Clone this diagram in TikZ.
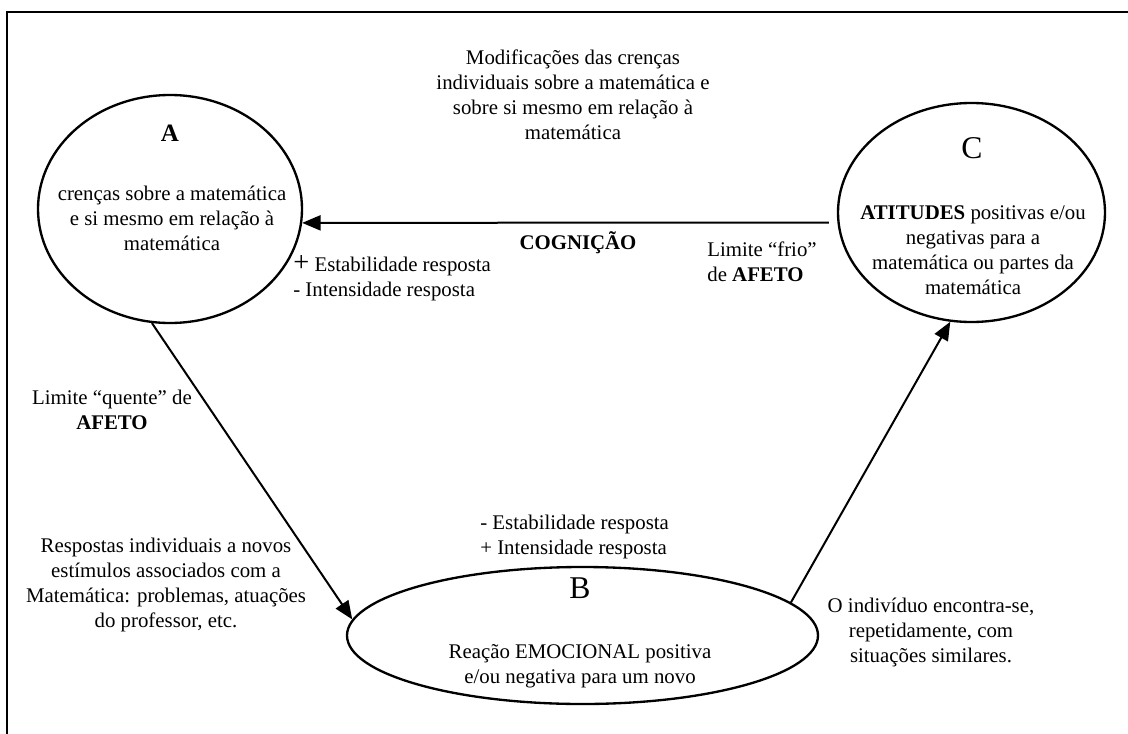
\documentclass[tikz,border=0pt]{standalone}
\usepackage{fontspec}
\setmainfont{Liberation Serif}
\usetikzlibrary{shapes.geometric,arrows.meta}
\begin{document}
\begin{tikzpicture}[x=0.6pt,y=-0.6pt,
  every node/.style={font=\fontsize{12.5}{15}\selectfont, inner sep=0pt},
  bubble/.style={draw, ellipse, line width=1.4pt},
  arr/.style={-{Triangle[length=11pt,width=9pt]}, line width=1.2pt},
  frame/.style={line width=1.4pt},
  txt/.style={align=center},
  ltxt/.style={align=left, anchor=west},
  bigletter/.style={font=\fontsize{19}{21}\selectfont},
]
\useasboundingbox (0,0) rectangle (1128,734);

% open frame: top and left sides
\draw[frame] (1128,12) -- (7,12) -- (7,734);

% the three states
\node[bubble, minimum width=158.4pt, minimum height=136.8pt] (A) at (170,209) {};
\node[bubble, minimum width=160.2pt, minimum height=131.4pt] (C) at (971.5,212.5) {};
\node[bubble, minimum width=282.6pt, minimum height=82.2pt] (B) at (582.5,635.5) {};

% contents of A
\node[font=\fontsize{15}{17}\selectfont\bfseries] (Aletter) at (170,133) {A};
\node[txt] (Atext) at (172,218) {crenças sobre a matemática\\e si mesmo em relação à\\matemática};

% contents of C
\node[bigletter] (Cletter) at (972,148) {C};
\node[txt] (Ctext) at (973,250) {\textbf{ATITUDES} positivas e/ou\\negativas para a\\matemática ou partes da\\matemática};

% contents of B
\node[bigletter] (Bletter) at (580,588) {B};
\node[txt] (Btext) at (580,666) {Reação EMOCIONAL positiva\\e/ou negativa para um novo};

% transitions
\draw[arr] ([xshift=-4.8pt,yshift=-6pt]C.west) -- (A.-6);
\draw[arr] (A.261.5) -- (B.176.8);
\draw[arr] (B.9.4) -- (C.259);

% free labels
\node[txt] (mod) at (573,95) {Modificações das crenças\\individuais sobre a matemática e\\sobre si mesmo em relação à\\matemática};
\node[font=\fontsize{12.5}{15}\selectfont\bfseries] (cog) at (578,243) {COGNIÇÃO};
\node[ltxt] (frio) at (707,262) {Limite “frio”\\de \textbf{AFETO}};
\node[ltxt] (estA) at (293,278) {{\fontsize{17}{15}\selectfont +} Estabilidade resposta\\- Intensidade resposta};
\node[txt] (quente) at (112,410) {Limite “quente” de\\\textbf{AFETO}};
\node[txt] (resp) at (166,585) {Respostas individuais a novos\\estímulos associados com a\\Matemática: problemas, atuações\\do professor, etc.};
\node[ltxt] (estB) at (480,537) {- Estabilidade resposta\\+ Intensidade resposta};
\node[txt] (indiv) at (931,632) {O indivíduo encontra-se,\\repetidamente, com\\situações similares.};
\end{tikzpicture}
\end{document}
